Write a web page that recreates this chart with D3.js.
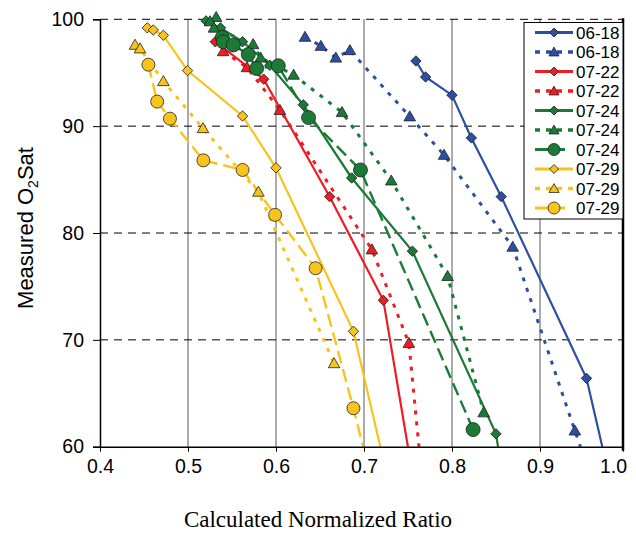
<!DOCTYPE html>
<html>
<head>
<meta charset="utf-8">
<script src="https://cdn.jsdelivr.net/npm/d3@7"></script>
<style>
  body { margin: 0; background: #fff; }
  svg { display: block; font-family: "Liberation Sans", Arial, sans-serif; }
</style>
</head>
<body>
<svg id="chart" width="636" height="533"></svg>
<script>
// values: [ratio, O2Sat]
const blueDiamonds = [[0.759, 96.1], [0.770, 94.6], [0.800, 92.9], [0.822, 88.9], [0.856, 83.4], [0.956, 66.4], [0.984, 57]];
const blueTriangles = [[0.633, 98.35], [0.651, 97.5], [0.668, 96.4], [0.684, 97.1], [0.752, 90.9], [0.791, 87.3], [0.869, 78.7], [0.942, 61.5], [0.962, 57]];
const redDiamonds = [[0.531, 97.9], [0.586, 94.4], [0.661, 83.4], [0.722, 73.7], [0.756, 57]];
const redTriangles = [[0.540, 97.0], [0.567, 95.5], [0.6045, 91.5], [0.709, 78.45], [0.751, 69.7], [0.766, 57]];
const greenDiamonds = [[0.5205, 99.85], [0.537, 99.2], [0.562, 97.9], [0.593, 95.7], [0.631, 92.0], [0.686, 85.15], [0.755, 78.3], [0.850, 61.2], [0.858, 57]];
const greenTriangles = [[0.532, 100.2], [0.525, 99.8], [0.5295, 99.2], [0.574, 97.66], [0.5825, 96.4], [0.620, 94.8], [0.675, 91.3], [0.731, 84.9], [0.795, 75.96], [0.836, 63.2]];
const greenCircles = [[0.539, 98.3], [0.540, 97.9], [0.5515, 97.6], [0.5685, 96.7], [0.578, 95.4], [0.6026, 95.65], [0.637, 90.8], [0.696, 85.9], [0.824, 61.6]];
const yellowDiamonds = [[0.4538, 99.2], [0.4606, 99.0], [0.472, 98.5], [0.4995, 95.2], [0.562, 90.95], [0.600, 86.1], [0.688, 70.8], [0.727, 57]];
const yellowTriangles = [[0.4398, 97.6], [0.4455, 97.26], [0.472, 94.2], [0.517, 89.8], [0.580, 83.85], [0.666, 67.8]];
const yellowCircles = [[0.455, 95.75], [0.465, 92.3], [0.4795, 90.7], [0.5175, 86.8], [0.562, 85.9], [0.599, 81.7], [0.645, 76.7], [0.688, 63.6], [0.708, 57]];

const seriesLabels = ['06-18', '06-18', '07-22', '07-22', '07-24', '07-24', '07-24', '07-29', '07-29', '07-29'];
const xTicks = [0.4, 0.5, 0.6, 0.7, 0.8, 0.9, 1.0];
const yTicks = [60, 70, 80, 90, 100];

const blue = '#2d4fa3', red = '#ee1c25', green = '#1b7a36', yellow = '#f8c31b';
const styles = {
  solid: { dash: null, width: 2.2 },
  dotted: { dash: '4,7', width: 3 },
  longdash: { dash: '13,6', width: 2.4 }
};

const series = [
  { data: blueDiamonds, color: blue, line: 'solid', marker: 'diamond' },
  { data: blueTriangles, color: blue, line: 'dotted', marker: 'triangle' },
  { data: redDiamonds, color: red, line: 'solid', marker: 'diamond' },
  { data: redTriangles, color: red, line: 'dotted', marker: 'triangle' },
  { data: greenDiamonds, color: green, line: 'solid', marker: 'diamond' },
  { data: greenTriangles, color: green, line: 'dotted', marker: 'triangle' },
  { data: greenCircles, color: green, line: 'longdash', marker: 'circle', r: 7 },
  { data: yellowDiamonds, color: yellow, line: 'solid', marker: 'diamond' },
  { data: yellowTriangles, color: yellow, line: 'dotted', marker: 'triangle' },
  { data: yellowCircles, color: yellow, line: 'longdash', marker: 'circle', r: 6.5 }
].map((s, i) => ({ ...s, label: seriesLabels[i] }));

const svg = d3.select('#chart');
const plotLeft = 100, plotRight = 623, plotTop = 19.3, plotBottom = 446.7;

const xScale = d3.scaleLinear().domain([0.4, 0.9, 1.0]).range([plotLeft, 540, plotRight]);
const yScale = d3.scaleLinear().domain([60, 100]).range([plotBottom, plotTop]);

// grid
svg.append('g').selectAll('line')
  .data(xTicks.filter(t => t > 0.4 && t < 1.0))
  .enter().append('line')
  .attr('x1', d => xScale(d)).attr('x2', d => xScale(d))
  .attr('y1', plotTop).attr('y2', plotBottom)
  .attr('stroke', '#666').attr('stroke-width', 1.1);

svg.append('g').selectAll('line')
  .data(yTicks.filter(t => t > 60))
  .enter().append('line')
  .attr('x1', plotLeft).attr('x2', plotRight)
  .attr('y1', d => yScale(d)).attr('y2', d => yScale(d))
  .attr('stroke', '#000').attr('stroke-width', 1)
  .attr('stroke-dasharray', '8,6');

svg.append('clipPath').attr('id', 'plot-clip')
  .append('rect').attr('x', plotLeft - 10).attr('y', 0)
  .attr('width', plotRight - plotLeft + 10).attr('height', plotBottom);

const plot = svg.append('g').attr('clip-path', 'url(#plot-clip)');

const line = d3.line().x(d => xScale(d[0])).y(d => yScale(d[1]));

function drawMarker(g, type, color, x, y, r) {
  if (type === 'circle') {
    g.append('circle').attr('cx', x).attr('cy', y).attr('r', r)
      .attr('fill', color).attr('stroke', '#222').attr('stroke-width', 0.8);
  } else if (type === 'diamond') {
    g.append('path').attr('d', d3.symbol(d3.symbolSquare, r * r * 2)())
      .attr('transform', `translate(${x},${y}) rotate(45)`)
      .attr('fill', color).attr('stroke', '#222').attr('stroke-width', 0.8);
  } else {
    g.append('path').attr('d', d3.symbol(d3.symbolTriangle, r * r * 1.8)())
      .attr('transform', `translate(${x},${y + 1})`)
      .attr('fill', color).attr('stroke', '#222').attr('stroke-width', 0.8);
  }
}

// lines
series.forEach(s => {
  plot.append('path')
    .datum(s.data)
    .attr('d', line)
    .attr('fill', 'none')
    .attr('stroke', s.color)
    .attr('stroke-width', styles[s.line].width)
    .attr('stroke-dasharray', styles[s.line].dash);
});

// markers
series.forEach(s => {
  const g = plot.append('g');
  s.data.forEach(d => {
    const r = s.marker === 'circle' ? s.r : (s.marker === 'diamond' ? 5.2 : 5.7);
    drawMarker(g, s.marker, s.color, xScale(d[0]), yScale(d[1]), r);
  });
});

// axes
const yAxis = svg.append('g')
  .attr('transform', `translate(${plotLeft},0)`)
  .call(d3.axisLeft(yScale).tickValues(yTicks).tickSize(7).tickPadding(9));
yAxis.select('.domain').attr('stroke-width', 1.5);
yAxis.selectAll('text').attr('font-size', 19.5).attr('fill', '#000')
  .attr('font-family', '"Liberation Sans", Arial, sans-serif');

const xAxis = svg.append('g')
  .attr('transform', `translate(0,${plotBottom})`)
  .call(d3.axisBottom(xScale).tickValues(xTicks).tickFormat(d3.format('.1f'))
    .tickSizeInner(5).tickSizeOuter(0).tickPadding(7));
xAxis.select('.domain').attr('stroke-width', 1.5);
xAxis.selectAll('text').attr('font-size', 19.5).attr('fill', '#000')
  .attr('font-family', '"Liberation Sans", Arial, sans-serif');
// last label sits a little inside the frame, as in the original
xAxis.selectAll('.tick text').filter(d => d === 1.0).attr('dx', -10);

// right frame
svg.append('line')
  .attr('x1', plotRight).attr('x2', plotRight).attr('y1', plotTop - 1).attr('y2', plotBottom + 4)
  .attr('stroke', '#000').attr('stroke-width', 2.5);

// legend
const legend = svg.append('g');
legend.append('rect')
  .attr('x', 524).attr('y', 22.5).attr('width', plotRight - 524).attr('height', 196.5)
  .attr('fill', '#fff').attr('stroke', '#000').attr('stroke-width', 1);

series.forEach((s, i) => {
  const y = 32.5 + i * 19.5;
  legend.append('line')
    .attr('x1', 535).attr('x2', s.marker === 'circle' ? 565 : 573)
    .attr('y1', y).attr('y2', y)
    .attr('stroke', s.color)
    .attr('stroke-width', styles[s.line].width + 0.6)
    .attr('stroke-dasharray', s.line === 'dotted' ? '5,6' : null);
  const r = s.marker === 'circle' ? 6 : (s.marker === 'diamond' ? 4.5 : 5);
  drawMarker(legend, s.marker, s.color, 554, y, r);
  legend.append('text')
    .attr('x', 576).attr('y', y).attr('dy', '0.36em')
    .attr('font-size', 17).attr('fill', '#000')
    .text(s.label);
});

// axis titles
svg.append('text')
  .attr('x', 318).attr('y', 527)
  .attr('text-anchor', 'middle')
  .attr('font-family', '"Liberation Serif", "Times New Roman", serif')
  .attr('font-size', 23)
  .text('Calculated Normalized Ratio');

const yTitle = svg.append('text')
  .attr('transform', 'translate(33,228) rotate(-90)')
  .attr('text-anchor', 'middle')
  .attr('font-size', 22);
yTitle.append('tspan').text('Measured O');
yTitle.append('tspan').attr('font-size', 14).attr('dy', 5).text('2');
yTitle.append('tspan').attr('dy', -5).text('Sat');
</script>
</body>
</html>
